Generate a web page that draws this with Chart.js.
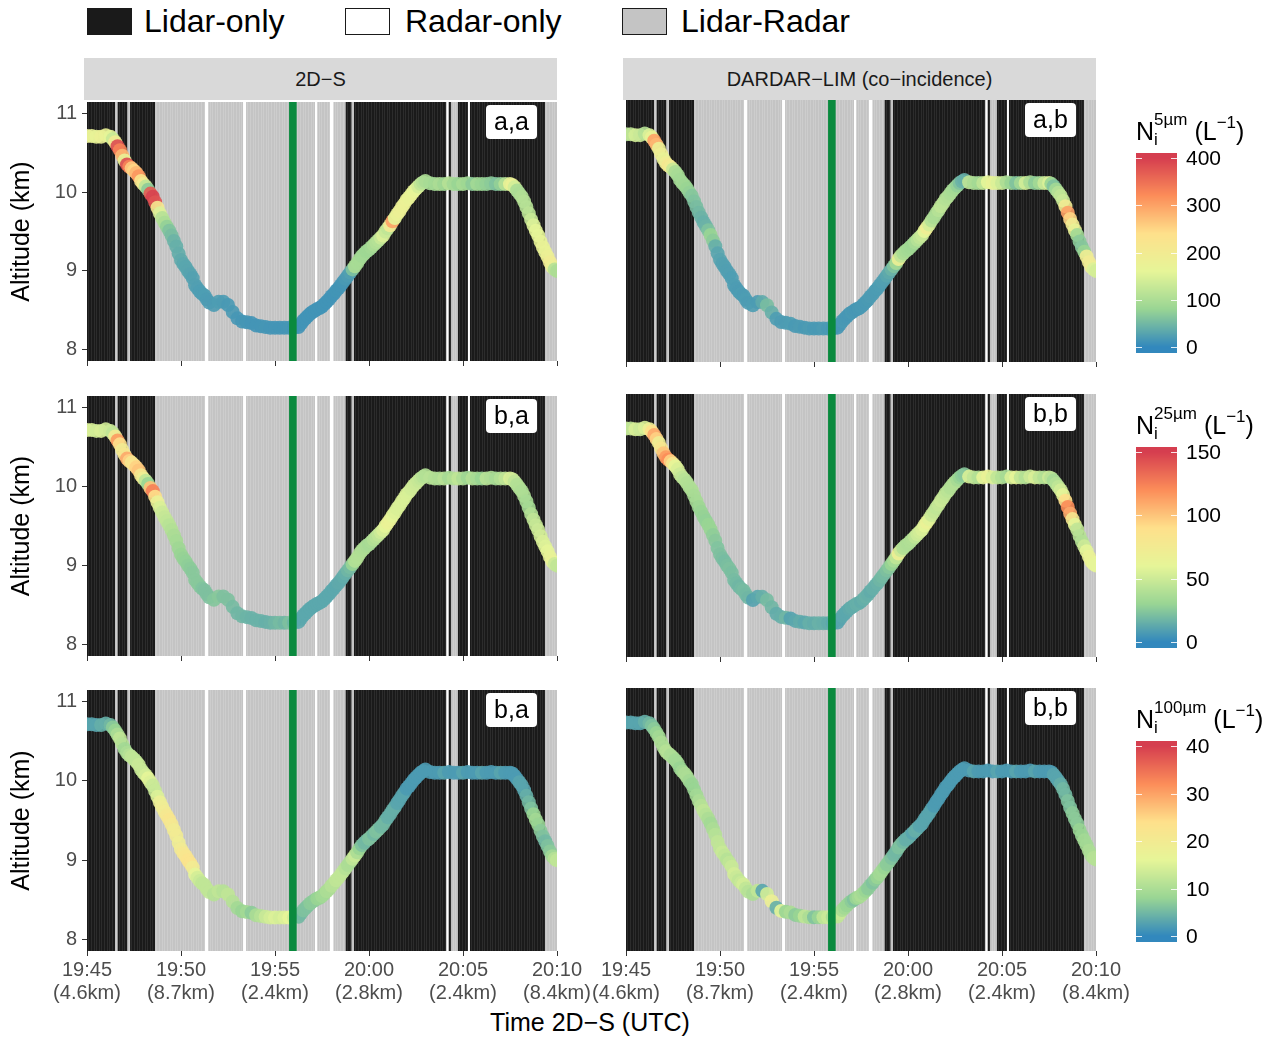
<!DOCTYPE html>
<html><head><meta charset="utf-8">
<script src="https://cdn.jsdelivr.net/npm/chart.js@4.4.1/dist/chart.umd.min.js"></script>
<style>
body{margin:0;background:#fff;width:1280px;height:1039px;position:relative;overflow:hidden;font-family:'Liberation Sans',Arial,Helvetica,sans-serif;}
.abs{position:absolute;white-space:nowrap;}
canvas{position:absolute;}
</style></head><body>
<script>
// ---------------- DATA ----------------
// time in minutes after 19:45 UTC
const timeMin = [0,0.25,0.5,0.75,1,
 1.25,1.375,1.5,1.625,1.75,1.875,2,2.125,2.25,2.375,2.5,2.625,2.75,2.875,3,3.125,3.25,3.375,3.5,3.625,3.75,3.875,4,4.125,4.25,4.375,4.5,4.625,4.75,4.875,5,5.125,5.25,5.375,5.5,5.625,5.75,5.875,6,6.125,6.25,6.375,6.5,
 6.75,7,7.25,7.5,7.75,8,8.25,8.5,8.75,9,9.25,9.5,9.75,10,10.25,10.5,10.75,11,
 11.25,11.375,11.5,11.625,11.75,11.875,12,12.125,12.25,12.375,12.5,12.625,12.75,12.875,13,13.125,13.25,13.375,13.5,13.625,13.75,13.875,14,14.125,14.25,14.375,14.5,14.625,14.75,14.875,15,15.125,15.25,15.375,15.5,15.625,15.75,15.875,16,16.125,16.25,16.375,16.5,16.625,16.75,16.875,17,17.125,17.25,17.375,17.5,17.625,17.75,17.875,18,
 18.25,18.5,18.75,19,19.25,19.5,19.75,20,20.25,20.5,20.75,21,21.25,21.5,21.75,22,22.25,
 22.5,22.625,22.75,22.875,23,23.125,23.25,23.375,23.5,23.625,23.75,23.875,24,24.125,24.25,24.375,24.5,24.625,24.75,24.875,25];
const altKm = [10.71,10.71,10.70,10.70,10.72,
 10.70,10.67,10.63,10.58,10.53,10.46,10.40,10.35,10.32,10.30,10.27,10.24,10.20,10.14,10.10,10.07,10.03,9.98,9.94,9.87,9.80,9.73,9.67,9.61,9.56,9.51,9.45,9.38,9.31,9.22,9.14,9.09,9.05,9.00,8.96,8.91,8.82,8.78,8.74,8.71,8.69,8.64,8.60,
 8.57,8.61,8.61,8.57,8.48,8.40,8.36,8.35,8.34,8.31,8.30,8.29,8.28,8.28,8.28,8.28,8.28,8.28,
 8.29,8.33,8.37,8.40,8.43,8.46,8.48,8.50,8.52,8.53,8.55,8.58,8.61,8.64,8.68,8.71,8.75,8.78,8.82,8.86,8.90,8.94,8.98,9.02,9.06,9.10,9.15,9.19,9.22,9.25,9.27,9.30,9.33,9.36,9.39,9.42,9.45,9.50,9.54,9.58,9.63,9.67,9.72,9.76,9.81,9.85,9.90,9.93,9.97,10.01,10.04,10.07,10.10,10.12,10.14,
 10.11,10.10,10.10,10.10,10.11,10.10,10.10,10.10,10.11,10.10,10.10,10.10,10.10,10.11,10.10,10.10,10.10,
 10.10,10.09,10.06,10.02,9.98,9.94,9.88,9.81,9.73,9.65,9.58,9.51,9.45,9.37,9.30,9.24,9.18,9.11,9.05,9.02,9.00];
const ni5_2DS = [175,170,168,175,172,
 160,130,200,385,330,280,170,385,330,260,250,280,310,230,200,120,70,370,395,380,210,150,110,100,75,60,55,45,40,38,35,32,30,30,28,26,25,24,22,22,22,20,20,
 20,22,20,18,18,16,15,15,14,14,14,15,14,14,13,14,15,14,
 12,12,12,12,12,12,12,12,12,12,12,12,12,12,12,12,13,13,14,15,18,20,25,60,100,95,95,90,90,85,85,90,100,105,110,130,150,130,120,200,300,160,170,180,180,175,175,170,170,165,160,140,120,110,100,
 95,90,100,85,110,90,80,95,85,70,90,80,75,70,60,75,110,
 170,175,140,100,100,105,110,110,115,130,150,160,160,165,170,170,180,195,180,110,100];
const ni5_DARDAR = [110,120,140,130,110,
 150,170,300,280,180,185,170,190,210,200,130,100,95,90,90,85,80,75,65,60,55,50,45,40,45,60,80,70,40,30,28,26,25,24,24,22,22,20,20,22,20,22,20,
 22,20,35,55,40,22,20,20,22,18,20,18,20,18,18,20,18,16,
 15,16,18,17,16,16,18,17,16,17,18,18,18,19,20,20,20,21,22,24,25,30,35,45,60,90,180,120,100,95,90,88,85,95,110,120,130,160,190,140,110,100,100,110,120,115,110,105,100,95,90,75,60,45,40,
 120,100,90,120,160,170,150,130,100,80,60,90,140,100,70,90,130,
 150,80,60,90,110,120,130,200,300,250,200,170,90,70,65,80,190,200,190,150,140];
const ni25_2DS = [55,55,52,55,52,
 50,45,75,115,90,75,80,110,95,80,85,95,100,80,70,45,30,100,125,90,65,55,50,47,45,42,40,37,35,32,30,29,28,27,26,25,25,25,25,23,22,22,22,
 24,25,22,22,20,18,18,17,16,16,16,15,16,18,20,18,22,18,
 12,12,12,12,12,12,12,12,12,12,12,12,12,12,12,12,12,13,13,14,15,18,20,30,40,40,40,39,38,37,35,37,40,42,45,50,55,60,65,65,60,57,55,55,55,55,55,54,52,51,50,48,45,42,40,
 42,40,38,42,35,40,45,38,32,40,35,30,42,38,35,40,45,
 55,52,45,40,40,38,38,36,35,40,45,48,50,52,55,57,60,63,65,50,45];
const ni25_DARDAR = [50,45,55,50,55,
 70,90,110,95,70,80,100,115,120,95,80,60,55,50,45,42,40,39,38,36,35,32,30,29,28,30,30,27,25,23,22,21,20,21,22,21,20,19,18,19,20,19,18,
 10,12,15,20,18,14,15,18,10,12,14,12,15,14,16,15,14,12,
 10,11,12,12,12,13,14,14,15,15,14,15,16,15,14,15,15,16,18,19,20,22,25,30,35,45,70,50,40,39,38,39,40,45,50,52,55,60,65,58,50,47,45,47,50,48,45,43,40,40,40,35,30,27,25,
 55,45,40,60,65,55,45,40,35,55,60,45,40,50,55,45,40,
 50,42,35,40,45,52,60,90,120,110,80,60,45,42,40,50,60,65,65,62,60];
const ni100_2DS = [3,3,3,4,4,
 5,7,8,10,12,11,9,10,11,12,12,12,13,13,13,14,16,15,13,13,15,18,19,20,21,22,21,20,20,19,20,21,22,23,23,20,16,14,13,12,12,12,12,
 11,12,11,12,11,9,8,9,7,10,11,13,14,15,14,15,16,14,
 5,5,6,6,6,7,7,7,8,8,9,9,10,10,11,11,12,12,12,12,11,10,10,12,13,10,8,6,5,5,6,6,5,6,6,5,5,5,4,4,4,4,3,3,3,3,2,2,2,2,2,2,2,2,2,
 2,2,2,3,2,2,2,3,2,2,2,3,2,2,2,3,2,
 2,2,2,2,3,3,3,4,5,6,8,9,8,7,6,5,6,7,9,11,12];
const ni100_DARDAR = [3,3,3,3,4,
 5,6,7,8,9,10,10,11,11,10,10,9,9,8,9,10,10,9,8,8,9,10,11,12,11,10,9,10,11,12,12,13,12,11,12,13,14,13,12,13,14,12,11,
 10,12,3,14,18,4,16,8,10,7,8,12,10,6,8,12,13,10,
 12,13,10,9,8,8,7,6,8,9,10,9,8,7,7,6,7,8,9,9,8,7,7,6,5,5,6,6,5,4,4,4,3,4,4,3,3,3,3,3,3,2,2,2,2,2,2,2,2,2,2,2,2,2,2,
 2,3,2,2,2,2,3,2,2,2,3,2,2,2,3,2,2,
 2,2,3,3,3,4,5,5,6,6,7,7,7,8,8,9,9,10,10,11,11];

// sampling-mode background segments (minutes after 19:45): L = Lidar-only, R = Radar-only, B = Lidar-Radar
const segStart = [0,1.49,1.63,2.14,2.29,3.62,6.28,6.45,8.31,8.46,12.13,12.25,12.93,13.11,13.76,14.08,14.2,19.12,19.24,19.38,19.73,20.27,20.37,24.36];
const segEnd   = [1.49,1.63,2.14,2.29,3.62,6.28,6.45,8.31,8.46,12.13,12.25,12.93,13.11,13.76,14.08,14.2,19.12,19.24,19.38,19.73,20.27,20.37,24.36,25];
const segType  = ['L','B','L','B','L','B','R','B','R','B','R','B','R','B','L','B','L','R','L','B','L','R','L','B'];

const greenLineTime = 10.95;
const xTickValues = [0,5,10,15,20,25];
const xTickTimes = ['19:45','19:50','19:55','20:00','20:05','20:10'];
const xTickDist = ['(4.6km)','(8.7km)','(2.4km)','(2.8km)','(2.4km)','(8.4km)'];
const yTickValues = [8,9,10,11];
const panelLabels = [['a,a','a,b'],['b,a','b,b'],['b,a','b,b']];
const stripTitles = ['2D\u2212S','DARDAR\u2212LIM (co\u2212incidence)'];
const legendLabels = ['Lidar-only','Radar-only','Lidar-Radar'];
const cbTicks = [[0,100,200,300,400],[0,50,100,150],[0,10,20,30,40]];
const cbMax = [400,150,40];
const cbSup = ['5\u00b5m','25\u00b5m','100\u00b5m'];
const rowSeries = [[ni5_2DS, ni5_DARDAR],[ni25_2DS, ni25_DARDAR],[ni100_2DS, ni100_DARDAR]];

// ---------------- STYLE / LAYOUT ----------------
const FONT = "'Liberation Sans', Arial, Helvetica, sans-serif";
const PANEL_X = [[87,557],[626,1096]];
const ROW_Y = [[100,362],[394,657],[688,951]];
const Y_MIN = 7.86, Y_MAX = 11.14;
const spectral = ['#3288bd','#99d594','#e6f598','#fee08b','#fc8d59','#d53e4f'];
const segFill = {L:'#1a1a1a', R:'#ffffff', B:'#c4c4c4'};
const segLine = {L:'#2c2c2c', B:'#cdcdcd'};
const profileStep = 0.14;

function hex2rgb(h){return [parseInt(h.substr(1,2),16),parseInt(h.substr(3,2),16),parseInt(h.substr(5,2),16)];}
const specRGB = spectral.map(hex2rgb);
function rgbFor(v,max){
  let f=Math.max(0,Math.min(1,v/max)); let p=f*(specRGB.length-1);
  let i=Math.min(specRGB.length-2,Math.floor(p)); let t=p-i;
  const a=specRGB[i], b=specRGB[i+1];
  return [0,1,2].map(k=>Math.round(a[k]+(b[k]-a[k])*t));
}
function colorFor(v,max,alpha){const c=rgbFor(v,max);return `rgba(${c[0]},${c[1]},${c[2]},${alpha})`;}

function addDiv(html, style){const d=document.createElement('div');d.className='abs';d.innerHTML=html;Object.assign(d.style,style);document.body.appendChild(d);return d;}

// data length check (debug)
const bad=[altKm,...rowSeries.flat()].map(a=>a.length).filter(n=>n!==timeMin.length);
if(bad.length){addDiv('LEN MISMATCH '+timeMin.length+' vs '+[altKm,...rowSeries.flat()].map(a=>a.length).join(','),{left:'300px',top:'1015px',color:'red',fontSize:'14px'});}

// legend
const legFill=['#1a1a1a','#ffffff','#c4c4c4'];
const legBoxX=[87,345,622], legTextX=[144,405,681];
for(let i=0;i<3;i++){
  addDiv('',{left:legBoxX[i]+'px',top:'8px',width:'43px',height:'25px',background:legFill[i],border:'1px solid #1a1a1a'});
  addDiv(legendLabels[i],{left:legTextX[i]+'px',top:'4px',fontSize:'32px',lineHeight:'34px',color:'#000'});
}
// strips
for(let c=0;c<2;c++){
  addDiv(stripTitles[c],{left:(PANEL_X[c][0]-3)+'px',top:'58px',width:(PANEL_X[c][1]-PANEL_X[c][0]+3)+'px',height:'42px',background:'#d9d9d9',textAlign:'center',fontSize:'20px',lineHeight:'42px',color:'#1a1a1a'});
}
// x title
addDiv('Time 2D\u2212S (UTC)',{left:'390px',width:'400px',textAlign:'center',top:'1007px',fontSize:'25px',lineHeight:'30px',color:'#000'});

// plugin
const panelPlugin = {
  id:'panelDeco',
  beforeDatasetsDraw(chart){
    const {ctx, chartArea:{top,bottom,left,right}, scales:{x}} = chart;
    ctx.save(); ctx.beginPath(); ctx.rect(left,top,right-left,bottom-top); ctx.clip();
    for(let k=0;k<segStart.length;k++){
      const x0=x.getPixelForValue(segStart[k]), x1=x.getPixelForValue(segEnd[k]);
      ctx.fillStyle=segFill[segType[k]];
      ctx.fillRect(x0,top,x1-x0,bottom-top);
      if(segLine[segType[k]]){
        ctx.fillStyle=segLine[segType[k]];
        for(let t=segStart[k]+profileStep/2;t<segEnd[k];t+=profileStep){
          const px=Math.round(x.getPixelForValue(t));
          ctx.fillRect(px,top,1,bottom-top);
        }
      }
    }
    ctx.restore();
  },
  afterDatasetsDraw(chart){
    const {ctx, chartArea:{top,bottom,left,right}, scales:{x}} = chart;
    const o = chart.options.plugins.panelDeco;
    ctx.save(); ctx.beginPath(); ctx.rect(left,top,right-left,bottom-top); ctx.clip();
    const gx=x.getPixelForValue(greenLineTime);
    ctx.fillStyle='#0a8a3e'; ctx.fillRect(gx-3.8,top,7.6,bottom-top);
    ctx.restore();
    const bx0=right-71, bx1=right-20, by0=top+3, by1=top+37;
    ctx.save();
    ctx.fillStyle='#ffffff'; ctx.beginPath();
    if(ctx.roundRect){ctx.roundRect(bx0,by0,bx1-bx0,by1-by0,4);} else {ctx.rect(bx0,by0,bx1-bx0,by1-by0);}
    ctx.fill();
    ctx.fillStyle='#000'; ctx.font='25px '+FONT; ctx.textAlign='center'; ctx.textBaseline='middle';
    ctx.fillText(o.label,(bx0+bx1)/2,(by0+by1)/2+1);
    ctx.restore();
  }
};

// panels
for(let r=0;r<3;r++){
  for(let c=0;c<2;c++){
    const pTop=ROW_Y[r][0], pBot=ROW_Y[r][1];
    const isBottom = r===2;
    const xh = isBottom?70:14;
    const padTop=15, padBot=2;
    const cv=document.createElement('canvas');
    let cl, cw, padL, padR=45;
    if(c===0){cl=0; padL=0; cw=PANEL_X[0][1]+padR;}
    else {padL=45; cl=PANEL_X[1][0]-padL; cw=padL+(PANEL_X[1][1]-PANEL_X[1][0])+padR;}
    const ch=padTop+(pBot-pTop)+xh+padBot;
    cv.width=cw; cv.height=ch;
    cv.style.left=cl+'px'; cv.style.top=(pTop-padTop)+'px';
    cv.style.width=cw+'px'; cv.style.height=ch+'px';
    document.body.appendChild(cv);
    const vals=rowSeries[r][c];
    const pts=timeMin.map((t,i)=>({x:t,y:altKm[i]}));
    const cols=vals.map(v=>colorFor(v,cbMax[r],0.9));
    new Chart(cv.getContext('2d'),{
      type:'scatter',
      data:{datasets:[{data:pts,pointBackgroundColor:cols,pointBorderWidth:0,pointRadius:7,pointHoverRadius:7,showLine:false,clip:0}]},
      options:{
        responsive:false, animation:false, devicePixelRatio:1, events:[],
        layout:{padding:{top:padTop,bottom:padBot,left:padL,right:padR}},
        plugins:{legend:{display:false},tooltip:{enabled:false},panelDeco:{label:panelLabels[r][c]}},
        scales:{
          x:{type:'linear',min:0,max:25,position:'bottom',
            afterBuildTicks:s=>{s.ticks=xTickValues.map(v=>({value:v}));},
            afterFit:s=>{s.height=xh;},
            grid:{display:true,drawOnChartArea:false,drawTicks:true,tickLength:5,color:'#333333',lineWidth:1},
            border:{display:false},
            ticks:{display:isBottom,color:'#4d4d4d',font:{size:20,family:FONT,lineHeight:1.15},padding:3,maxRotation:0,autoSkip:false,
              callback:(v,i)=>[xTickTimes[i],xTickDist[i]]}
          },
          y:{type:'linear',min:Y_MIN,max:Y_MAX,display:c===0,
            afterBuildTicks:s=>{s.ticks=yTickValues.map(v=>({value:v}));},
            afterFit:s=>{s.width=(c===0)?87:0;},
            grid:{display:true,drawOnChartArea:false,drawTicks:true,tickLength:5,color:'#333333',lineWidth:1},
            border:{display:false},
            ticks:{color:'#4d4d4d',font:{size:20,family:FONT},padding:5,callback:v=>String(v)},
            title:{display:true,text:'Altitude (km)',color:'#000',font:{size:25,family:FONT},padding:{top:7,bottom:0}}
          }
        }
      },
      plugins:[panelPlugin]
    });
  }
}

// colourbars
for(let r=0;r<3;r++){
  const pTop=ROW_Y[r][0], pBot=ROW_Y[r][1];
  const barTop=pTop+53, barBot=pBot-9, barL=1136, barW=41;
  const yMaxTick=barTop+5, yZero=barBot-6;
  const cv=document.createElement('canvas');
  cv.width=barW; cv.height=barBot-barTop;
  cv.style.left=barL+'px'; cv.style.top=barTop+'px';
  document.body.appendChild(cv);
  const ctx=cv.getContext('2d');
  const max=cbMax[r];
  const valAt=py=>max*(yZero-py)/(yZero-yMaxTick);
  for(let y=0;y<barBot-barTop;y++){
    ctx.fillStyle=colorFor(valAt(barTop+y+0.5),max,1);
    ctx.fillRect(0,y,barW,1);
  }
  ctx.fillStyle='rgba(255,255,255,0.85)';
  cbTicks[r].forEach(v=>{
    const py=yZero-(yZero-yMaxTick)*v/max-barTop;
    ctx.fillRect(0,Math.round(py),6,1); ctx.fillRect(barW-6,Math.round(py),6,1);
    addDiv(String(v),{left:'1186px',top:(barTop+py-12)+'px',fontSize:'21px',lineHeight:'24px',color:'#000'});
  });
  addDiv(`N<span style="display:inline-block;font-size:17px;line-height:20px;vertical-align:-5px;text-align:left"><span style="display:block">${cbSup[r]}</span><span style="display:block">i</span></span>&nbsp;(L<span style="font-size:17px;vertical-align:12px">\u22121</span>)`,
    {left:'1136px',top:(pTop+8)+'px',fontSize:'25px',lineHeight:'30px',color:'#000'});
}
</script>
</body></html>
